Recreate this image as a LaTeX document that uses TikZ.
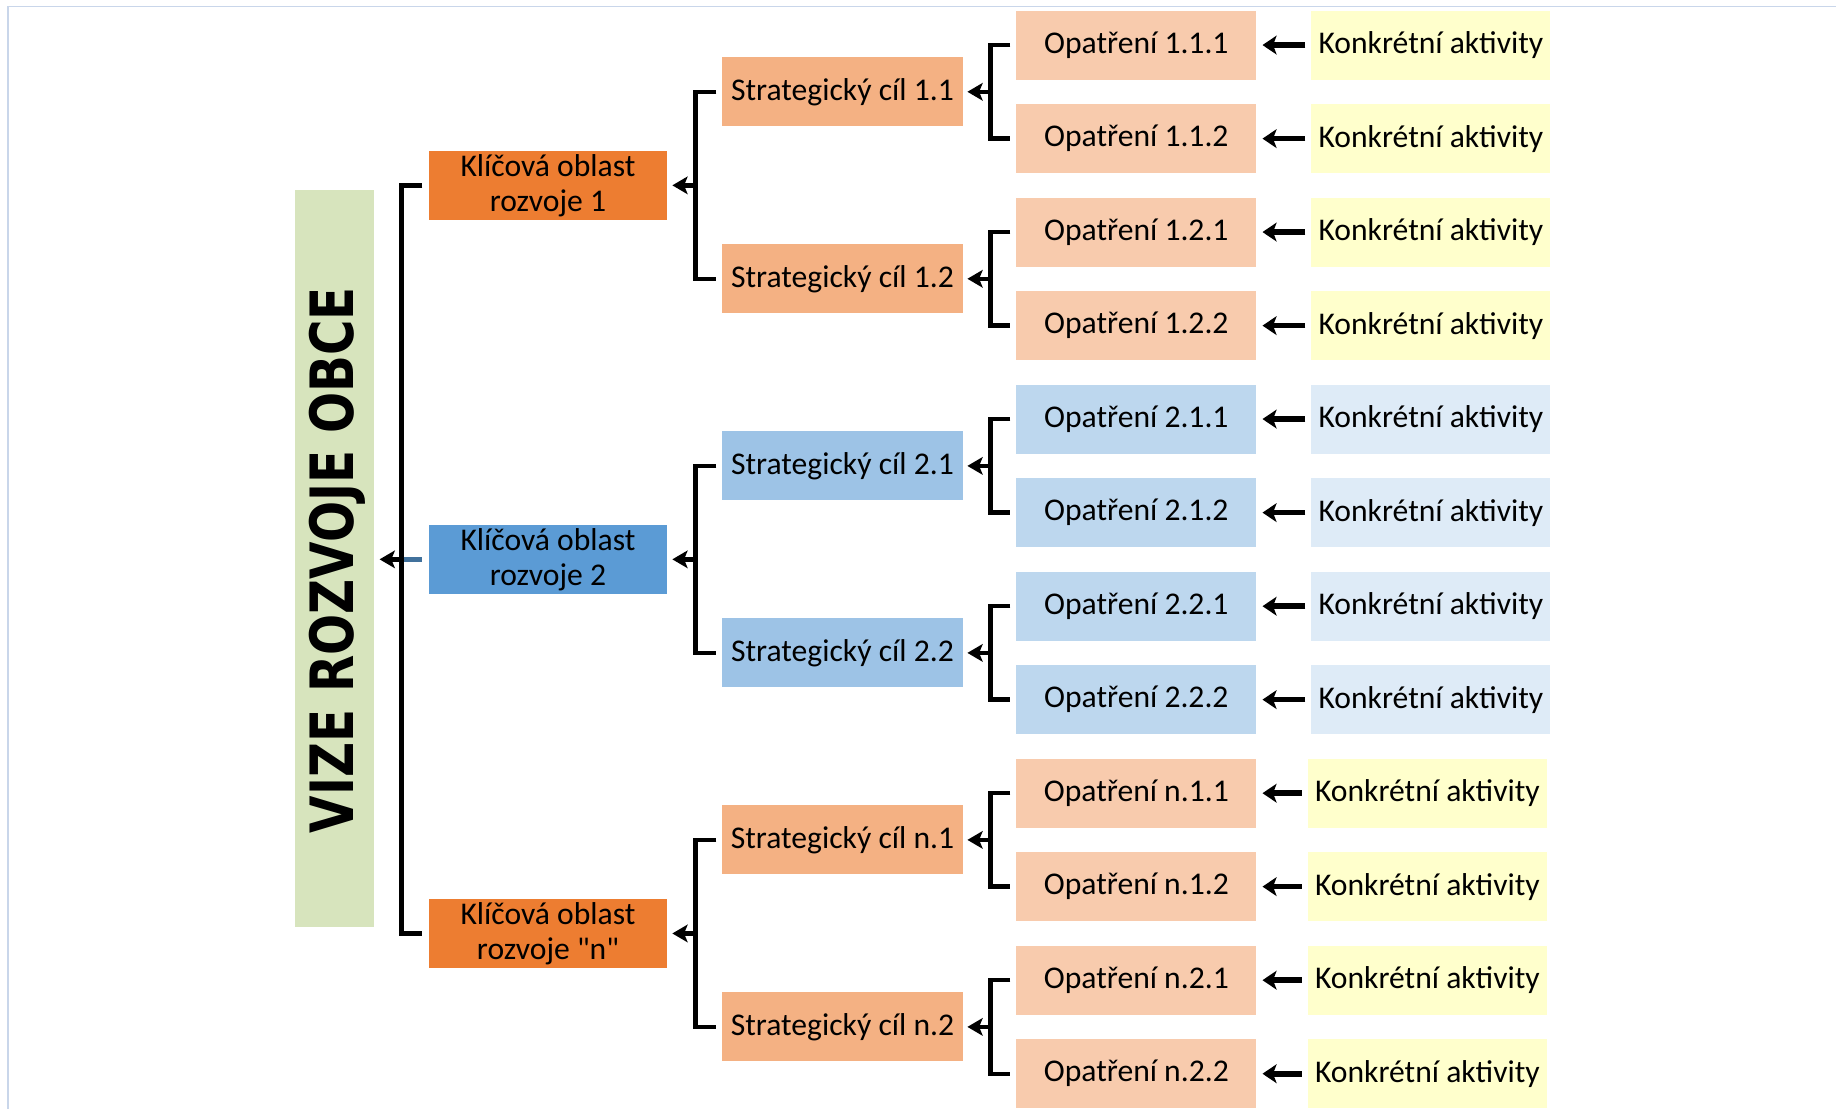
\documentclass[tikz,border=0pt]{standalone}
\usepackage{fontspec}
\usepackage{graphicx}
\setmainfont{Carlito}[Ligatures=TeXOff]
\newfontfamily\vizefont{DejaVu Sans}
\usetikzlibrary{arrows.meta,calc}
\definecolor{vizegreen}{HTML}{D7E4BD}
\definecolor{keyorange}{HTML}{ED7D31}
\definecolor{keyblue}{HTML}{5B9BD5}
\definecolor{strorange}{HTML}{F4B183}
\definecolor{strblue}{HTML}{9DC3E6}
\definecolor{oppeach}{HTML}{F8CBAD}
\definecolor{opblue}{HTML}{BDD7EE}
\definecolor{konyellow}{HTML}{FFFFCC}
\definecolor{konblue}{HTML}{DEEBF7}
\definecolor{stubblue}{HTML}{41719C}
\definecolor{framecol}{HTML}{C9D6EA}
\begin{document}
\begin{tikzpicture}[x=1pt,y=-1pt,
  box/.style={minimum width=205pt, minimum height=59pt, inner sep=0pt, align=center,
    font=\fontsize{27}{30}\selectfont, text=black},
  kbox/.style={box, minimum width=204pt},
  brk/.style={line width=3.8pt, black, line join=miter},
  arr/.style={line width=3.8pt, black, -{Stealth[length=13pt,width=15pt,inset=3pt]}},
  karr/.style={line width=4.8pt, black, -{Stealth[length=12pt,width=16pt,inset=3pt]}}
]
\useasboundingbox (0,0) rectangle (1568,946.3);
% frame
\draw[framecol, line width=1.5pt] (7,950) -- (7,5.5) -- (1570,5.5);

% vision bar
\node[fill=vizegreen, minimum width=67pt, minimum height=630pt, inner sep=0pt] (vize) at (285.5,477) {};
\node[rotate=90, inner sep=0pt, text height=37pt, text depth=0pt] (vizetext) at (283.5,478.5)
  {\vizefont\bfseries\fontsize{51}{51}\selectfont\scalebox{0.81}[1]{VIZE ROZVOJE OBCE}};

% key areas
\node[box, fill=keyorange, minimum width=204pt] (ka1) at (468,158.3) {Klíčová oblast\\rozvoje 1};
\node[box, fill=keyblue, minimum width=204pt] (ka2) at (468,477.7) {Klíčová oblast\\rozvoje 2};
\node[box, fill=keyorange, minimum width=204pt] (kan) at (468,797.2) {Klíčová oblast\\rozvoje "n"};

% strategic goals
\node[box, fill=strorange] (s11) at (719.5,78.4) {Strategický cíl 1.1};
\node[box, fill=strorange] (s12) at (719.5,238.1) {Strategický cíl 1.2};
\node[box, fill=strblue] (s21) at (719.5,397.9) {Strategický cíl 2.1};
\node[box, fill=strblue] (s22) at (719.5,557.6) {Strategický cíl 2.2};
\node[box, fill=strorange] (sn1) at (719.5,717.3) {Strategický cíl n.1};
\node[box, fill=strorange] (sn2) at (719.5,877.0) {Strategický cíl n.2};

% measures
\node[box, fill=oppeach] (o111) at (970.5,38.5) {Opatření 1.1.1};
\node[box, fill=oppeach] (o112) at (970.5,118.4) {Opatření 1.1.2};
\node[box, fill=oppeach] (o121) at (970.5,198.2) {Opatření 1.2.1};
\node[box, fill=oppeach] (o122) at (970.5,278.1) {Opatření 1.2.2};
\node[box, fill=opblue] (o211) at (970.5,357.9) {Opatření 2.1.1};
\node[box, fill=opblue] (o212) at (970.5,437.8) {Opatření 2.1.2};
\node[box, fill=opblue] (o221) at (970.5,517.7) {Opatření 2.2.1};
\node[box, fill=opblue] (o222) at (970.5,597.5) {Opatření 2.2.2};
\node[box, fill=oppeach] (on11) at (970.5,677.4) {Opatření n.1.1};
\node[box, fill=oppeach] (on12) at (970.5,757.2) {Opatření n.1.2};
\node[box, fill=oppeach] (on21) at (970.5,837.1) {Opatření n.2.1};
\node[box, fill=oppeach] (on22) at (970.5,917.0) {Opatření n.2.2};

% activities
\node[kbox, fill=konyellow] (k111) at (1222,38.5) {Konkrétní aktivity};
\node[kbox, fill=konyellow] (k112) at (1222,118.4) {Konkrétní aktivity};
\node[kbox, fill=konyellow] (k121) at (1222,198.2) {Konkrétní aktivity};
\node[kbox, fill=konyellow] (k122) at (1222,278.1) {Konkrétní aktivity};
\node[kbox, fill=konblue] (k211) at (1222,357.9) {Konkrétní aktivity};
\node[kbox, fill=konblue] (k212) at (1222,437.8) {Konkrétní aktivity};
\node[kbox, fill=konblue] (k221) at (1222,517.7) {Konkrétní aktivity};
\node[kbox, fill=konblue] (k222) at (1222,597.5) {Konkrétní aktivity};
\node[kbox, fill=konyellow] (kn11) at (1219,677.4) {Konkrétní aktivity};
\node[kbox, fill=konyellow] (kn12) at (1219,757.2) {Konkrétní aktivity};
\node[kbox, fill=konyellow] (kn21) at (1219,837.1) {Konkrétní aktivity};
\node[kbox, fill=konyellow] (kn22) at (1219,917.0) {Konkrétní aktivity};

% activity -> measure arrows
\foreach \a/\b in {k111/o111,k112/o112,k121/o121,k122/o122,k211/o211,k212/o212,k221/o221,k222/o222,
                   kn11/on11,kn12/on12,kn21/on21,kn22/on22}
  \draw[karr] ([xshift=-5pt]\a.west) -- ([xshift=5pt]\b.east);

% measure brackets -> strategic goals
\foreach \u/\l/\s in {o111/o112/s11,o121/o122/s12,o211/o212/s21,o221/o222/s22,on11/on12/sn1,on21/on22/sn2}{
  \draw[brk] ([xshift=-5pt]\u.west) -- ++(-17pt,0) |- ([xshift=-5pt]\l.west);
  \draw[arr] ([xshift=24pt]\s.east) -- ([xshift=4pt]\s.east);
}

% strategic brackets -> key areas
\foreach \u/\l/\s in {s11/s12/ka1,s21/s22/ka2,sn1/sn2/kan}{
  \draw[brk] ([xshift=-5pt]\u.west) -- ++(-18pt,0) |- ([xshift=-5pt]\l.west);
  \draw[arr] ([xshift=24pt]\s.east) -- ([xshift=4pt]\s.east);
}

% key area bracket -> vision
\draw[brk] ([xshift=-5pt]ka1.west) -- ++(-18pt,0) |- ([xshift=-5pt]kan.west);
\draw[arr] ([xshift=-23pt]ka2.west) -- ($(ka2.west -| vize.east)+(5pt,0)$);
\draw[stubblue, line width=3.8pt] ([xshift=-21.1pt]ka2.west) -- ([xshift=-5pt]ka2.west);
\end{tikzpicture}
\end{document}
